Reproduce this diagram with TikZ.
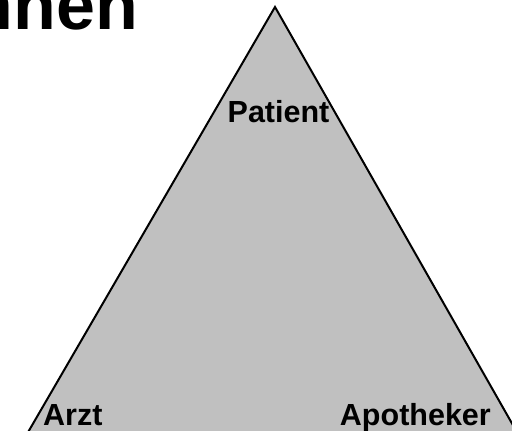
\documentclass[tikz,border=0pt]{standalone}
\usepackage{fontspec}
\setmainfont{Liberation Sans}
\usetikzlibrary{positioning}
\definecolor{pyrgray}{RGB}{192,192,192}
\tikzset{corner/.style={font=\bfseries\fontsize{30.5}{30.5}\selectfont,inner sep=0pt},
	 heading/.style={font=\bfseries\fontsize{70}{70}\selectfont,inner sep=0pt},
	 side/.style={draw=black,line width=2pt,fill=pyrgray,line join=miter}
	 }

\begin{document}
\begin{tikzpicture}[x=1pt,y=1pt]
	\useasboundingbox (0,0) rectangle (512,431);
	\clip (0,0) rectangle (512,431);
	\coordinate (top) at (275,424);
	\coordinate (left) at (27,-3);
	\coordinate (right) at (518,-3);
	\draw[side] (top) -- (left) -- (right) -- cycle;

	\node[heading,anchor=base east] (title) at (138,401) {nnen};
	\node[corner,anchor=base] (patient) at (278.5,308) {Patient};
	\node[corner,anchor=base west] (arzt) at (43,5) {Arzt};
	\node[corner,anchor=base east] (apotheker) at (491,5) {Apotheker};
\end{tikzpicture}
\end{document}
